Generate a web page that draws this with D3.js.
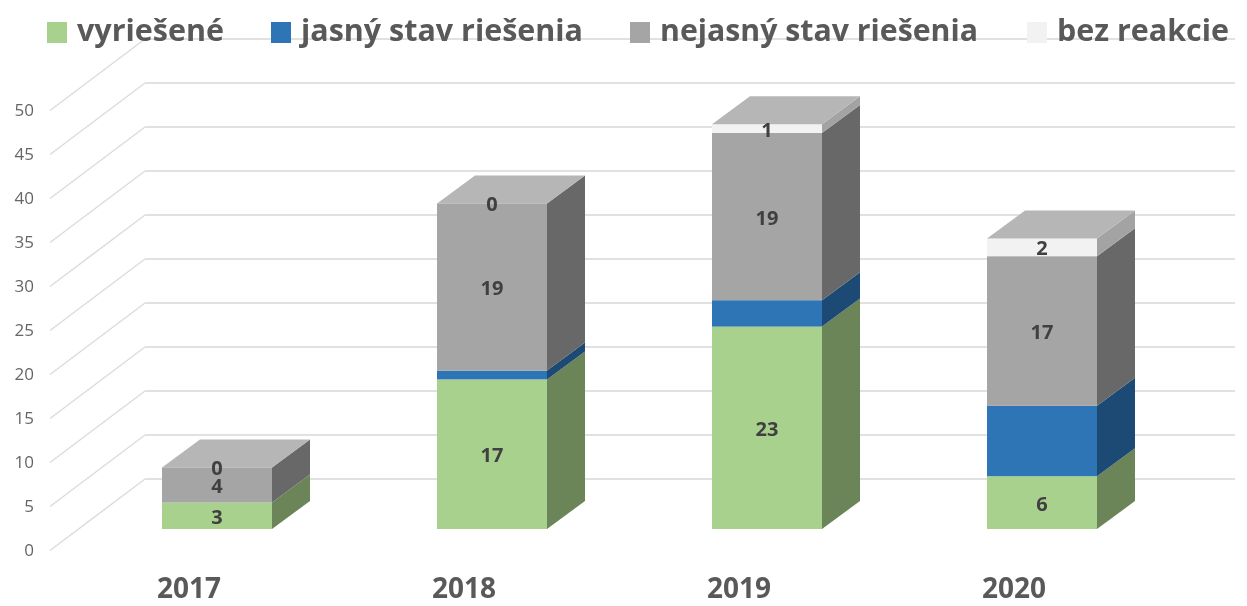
<!DOCTYPE html>
<html>
<head>
<meta charset="utf-8">
<script src="https://cdn.jsdelivr.net/npm/d3@7/dist/d3.min.js"></script>
<style>
  html, body { margin: 0; padding: 0; background: #fff; }
  svg { display: block; filter: blur(0.45px); }
  text { font-family: "Open Sans", sans-serif; }
</style>
</head>
<body>
<div id="chart"></div>
<script>
// values
var years = ["2017", "2018", "2019", "2020"];
var seriesNames = ["vyriešené", "jasný stav riešenia", "nejasný stav riešenia", "bez reakcie"];
var resolved = [3, 17, 23, 6];
var clearState = [0, 1, 3, 8];
var unclearState = [4, 19, 19, 17];
var noReaction = [0, 0, 1, 2];
var yTicks = [0, 5, 10, 15, 20, 25, 30, 35, 40, 45, 50];

var frontColors = ["#a9d18e", "#2e75b6", "#a5a5a5", "#f2f2f2"];
var sideColors = ["#6b8559", "#1c4a75", "#686868", "#a3a3a3"];
var topColor = "#b6b6b6";
var legendX = [47, 271, 630, 1027];
var legendLen = [147, 282, 318, 172];

var width = 1247, height = 606;
var depthX = 38, depthY = 28;          // bar depth
var wallX = 145;                       // back wall start

var svg = d3.select("#chart").append("svg")
  .attr("width", width)
  .attr("height", height);

var x = d3.scaleBand()
  .domain(years)
  .range([79.5, 1179.5])
  .paddingInner(0.6)
  .paddingOuter(0.3);

var y = d3.scaleLinear()
  .domain([0, 50])
  .range([529, 89]);

var rows = years.map(function(year, i) {
  return { year: year, s0: resolved[i], s1: clearState[i], s2: unclearState[i], s3: noReaction[i] };
});
var stacked = d3.stack().keys(["s0", "s1", "s2", "s3"])(rows);

// Back wall and left wall gridlines
var grid = svg.append("g");
yTicks.forEach(function(t) {
  var backY = y(t) - 50;
  grid.append("line")
    .attr("x1", wallX).attr("x2", 1235)
    .attr("y1", backY).attr("y2", backY)
    .attr("stroke", "#e1e1e1").attr("stroke-width", 2);
  grid.append("line")
    .attr("x1", 50).attr("x2", wallX)
    .attr("y1", y(t) + 21.5).attr("y2", backY)
    .attr("stroke", "#dcdcdc").attr("stroke-width", 1.5);
});

// Axes
var yAxis = svg.append("g")
  .attr("transform", "translate(38,21.5)")
  .call(d3.axisLeft(y).tickValues(yTicks).tickSize(0).tickPadding(4));
yAxis.select(".domain").remove();
yAxis.selectAll("text")
  .style("font-size", "17px")
  .attr("fill", "#666666");

var xAxis = svg.append("g")
  .attr("transform", "translate(-28,571)")
  .call(d3.axisBottom(x).tickSize(0).tickPadding(7));
xAxis.select(".domain").remove();
xAxis.selectAll("text")
  .style("font-size", "28px")
  .style("font-weight", "bold")
  .attr("fill", "#595959");

// Bars, bottom segment first
var bars = svg.append("g");
stacked.forEach(function(layer, si) {
  layer.forEach(function(d, i) {
    if (d[1] - d[0] <= 0) return;
    var x0 = x(years[i]), x1 = x0 + x.bandwidth();
    bars.append("polygon")
      .attr("points", [
        [x1, y(d[0])], [x1 + depthX, y(d[0]) - depthY],
        [x1 + depthX, y(d[1]) - depthY], [x1, y(d[1])]
      ].join(" "))
      .attr("fill", sideColors[si]);
    bars.append("rect")
      .attr("x", x0)
      .attr("y", y(d[1]))
      .attr("width", x.bandwidth())
      .attr("height", y(d[0]) - y(d[1]))
      .attr("fill", frontColors[si]);
  });
});

// Top faces
years.forEach(function(year, i) {
  var topY = y(stacked[3][i][1]);
  var x0 = x(year), x1 = x0 + x.bandwidth();
  bars.append("polygon")
    .attr("points", [
      [x0, topY], [x1, topY],
      [x1 + depthX, topY - depthY], [x0 + depthX, topY - depthY]
    ].join(" "))
    .attr("fill", topColor);
});

// Data labels, the blue series has none in the original
stacked.forEach(function(layer, si) {
  if (si == 1) return;
  layer.forEach(function(d, i) {
    svg.append("text")
      .attr("x", x(years[i]) + x.bandwidth() / 2)
      .attr("y", (y(d[0]) + y(d[1])) / 2 + 1)
      .attr("dy", "0.35em")
      .attr("text-anchor", "middle")
      .attr("font-size", 20)
      .attr("font-weight", "bold")
      .attr("fill", "#404040")
      .text(d[1] - d[0]);
  });
});

// Legend
seriesNames.forEach(function(name, i) {
  svg.append("rect")
    .attr("x", legendX[i])
    .attr("y", 22)
    .attr("width", 20)
    .attr("height", 21)
    .attr("fill", frontColors[i]);
  svg.append("text")
    .attr("x", legendX[i] + 30)
    .attr("y", 41)
    .attr("font-size", 31)
    .attr("font-weight", "bold")
    .attr("fill", "#595959")
    .attr("textLength", legendLen[i])
    .attr("lengthAdjust", "spacingAndGlyphs")
    .text(name);
});
</script>
</body>
</html>
